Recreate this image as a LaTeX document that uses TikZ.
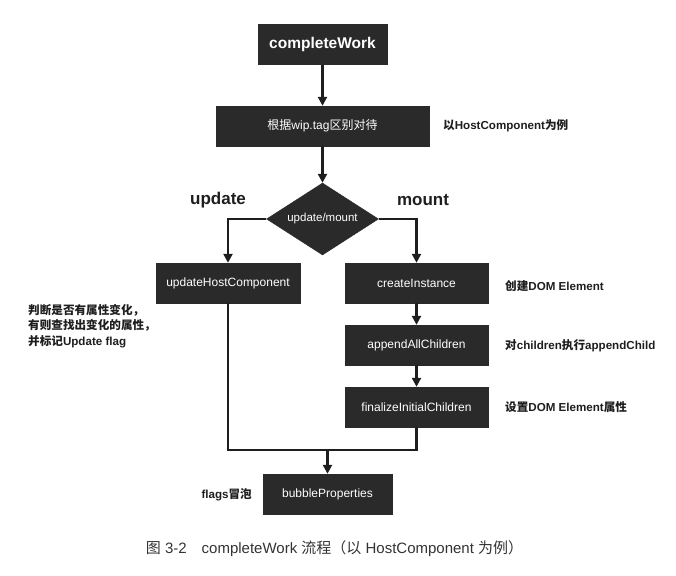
\documentclass[tikz,border=0pt]{standalone}
\usepackage{fontspec}
\setmainfont{Liberation Sans}
\newfontfamily\cjk{Noto Sans CJK SC}
\usetikzlibrary{arrows.meta,shapes.geometric}
\newcommand{\zh}[1]{{\cjk #1}}
\definecolor{boxgray}{HTML}{2A2A2A}
\definecolor{inkgray}{HTML}{1E1E1E}

\begin{document}
\begin{tikzpicture}[x=1pt,y=-1pt,>={Triangle[length=9pt,width=9pt]},
  flowbox/.style={draw=boxgray,fill=boxgray,text=white,minimum height=40pt,
    inner sep=0pt,font=\fontsize{12}{14}\selectfont},
  decision/.style={diamond,aspect=1.556,draw=boxgray,fill=boxgray,text=white,
    minimum width=112pt,minimum height=72pt,inner sep=0pt,
    font=\fontsize{11.5}{13}\selectfont},
  flowline/.style={draw=inkgray,line width=2.5pt},
  note/.style={font=\fontsize{11.6}{15.5}\selectfont\bfseries,text=inkgray,inner sep=0pt},
  branch/.style={font=\fontsize{17}{20}\selectfont\bfseries,text=inkgray,inner sep=0pt}]

\useasboundingbox (0,0) rectangle (676,575);

% ---------- main column ----------
\node[flowbox,minimum width=129pt,font=\fontsize{15.5}{18}\selectfont\bfseries] (cw) at (322.5,44.5) {completeWork};
\node[flowbox,minimum width=213pt] (tag) at (322.5,126) {\zh{根据}wip.tag\zh{区别对待}};
\node[decision] (mode) at (322.5,219) {update/mount};

% ---------- update / mount branches ----------
\node[flowbox,minimum width=144pt] (uhc) at (228,283) {updateHostComponent};
\node[flowbox,minimum width=143pt] (ci) at (416.5,283) {createInstance};
\node[flowbox,minimum width=143pt] (aac) at (416.5,345) {appendAllChildren};
\node[flowbox,minimum width=143pt] (fic) at (416.5,407) {finalizeInitialChildren};

% ---------- bottom ----------
\node[flowbox,minimum width=129pt] (bp) at (327.5,494) {bubbleProperties};
\coordinate (merge) at (327.5,450);

% connectors
\draw[flowline,->] (cw) -- (tag);
\draw[flowline,->] (tag) -- (mode);
\draw[flowline,->] (mode.west) -| (uhc.north);
\draw[flowline,->] (mode.east) -| (ci.north);
\draw[flowline,->] (ci) -- (aac);
\draw[flowline,->] (aac) -- (fic);
\draw[flowline] (uhc.south) |- (merge) -| (fic.south);
\draw[flowline,->] (merge) -- (bp);

% ---------- labels ----------
\node[branch] (updlbl) at (218,200) {update};
\node[branch] (mntlbl) at (423,200) {mount};
\node[note,anchor=west] (tagnote) at (443,126) {\zh{以}HostComponent\zh{为例}};
\node[note,anchor=west,align=left] (uhcnote) at (28,326)
  {\zh{判断是否有属性变化，}\\\zh{有则查找出变化的属性，}\\\zh{并标记}Update flag};
\node[note,anchor=west] (cinote) at (505,286) {\zh{创建}DOM Element};
\node[note,anchor=west] (aacnote) at (505,346) {\zh{对}children\zh{执行}appendChild};
\node[note,anchor=west] (ficnote) at (505,407) {\zh{设置}DOM Element\zh{属性}};
\node[note,anchor=east] (bpnote) at (252,495) {flags\zh{冒泡}};

% caption
\node[font=\fontsize{15}{18}\selectfont,text=black!80] (caption) at (334.5,549)
  {\zh{图} 3-2\hspace{1em}completeWork \zh{流程（以} HostComponent \zh{为例）}};

\end{tikzpicture}
\end{document}
